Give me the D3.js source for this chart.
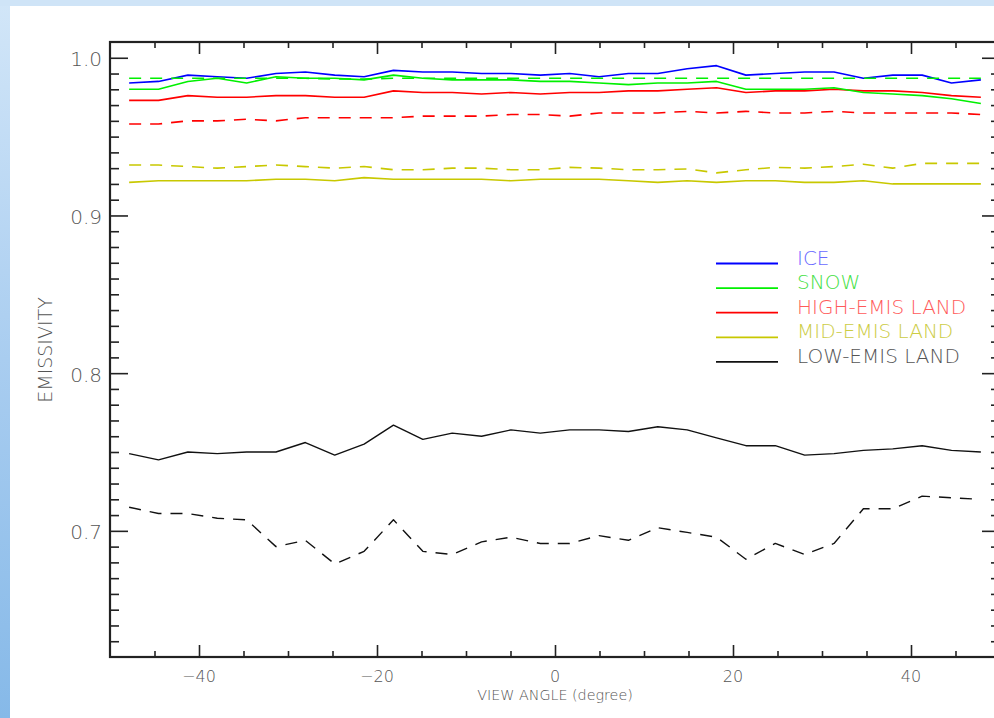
<!DOCTYPE html>
<html><head><meta charset="utf-8">
<script src="https://cdn.jsdelivr.net/npm/d3@7"></script>
<style>html,body{margin:0;padding:0;overflow:hidden;background:#fff}</style>
</head><body><svg id="c" width="994" height="718"></svg>
<script>
// ---------- data ----------
const angles = [-47.85,-44.55,-41.25,-37.95,-34.65,-31.35,-28.05,-24.75,-21.45,-18.15,-14.85,-11.55,-8.25,-4.95,-1.65,1.65,4.95,8.25,11.55,14.85,18.15,21.45,24.75,28.05,31.35,34.65,37.95,41.25,44.55,47.85];
const iceSolid   = [0.984,0.985,0.989,0.988,0.987,0.990,0.991,0.989,0.988,0.992,0.991,0.991,0.990,0.990,0.989,0.990,0.988,0.990,0.990,0.993,0.995,0.989,0.990,0.991,0.991,0.987,0.989,0.989,0.984,0.986];
const snowSolid  = [0.980,0.980,0.985,0.987,0.984,0.988,0.987,0.987,0.986,0.989,0.987,0.986,0.986,0.986,0.985,0.985,0.984,0.983,0.984,0.984,0.985,0.980,0.980,0.980,0.981,0.978,0.977,0.976,0.974,0.971];
const snowDashed = [0.987,0.987,0.987,0.987,0.987,0.987,0.987,0.9865,0.9865,0.987,0.987,0.987,0.987,0.987,0.987,0.987,0.987,0.987,0.987,0.987,0.987,0.987,0.987,0.987,0.987,0.987,0.987,0.987,0.987,0.987];
const highSolid  = [0.973,0.973,0.976,0.975,0.975,0.976,0.976,0.975,0.975,0.979,0.978,0.978,0.977,0.978,0.977,0.978,0.978,0.979,0.979,0.980,0.981,0.978,0.979,0.979,0.980,0.979,0.979,0.978,0.976,0.975];
const highDashed = [0.958,0.958,0.960,0.960,0.961,0.960,0.962,0.962,0.962,0.962,0.963,0.963,0.963,0.964,0.964,0.963,0.965,0.965,0.965,0.966,0.965,0.966,0.965,0.965,0.966,0.965,0.965,0.965,0.965,0.964];
const midSolid   = [0.921,0.922,0.922,0.922,0.922,0.923,0.923,0.922,0.924,0.923,0.923,0.923,0.923,0.922,0.923,0.923,0.923,0.922,0.921,0.922,0.921,0.922,0.922,0.921,0.921,0.922,0.920,0.920,0.920,0.920];
const midDashed  = [0.932,0.932,0.931,0.930,0.931,0.932,0.931,0.930,0.931,0.929,0.929,0.930,0.930,0.929,0.929,0.9305,0.930,0.929,0.929,0.9295,0.927,0.929,0.9305,0.930,0.931,0.9325,0.930,0.933,0.933,0.933];
const lowSolid   = [0.749,0.745,0.750,0.749,0.750,0.750,0.756,0.748,0.755,0.767,0.758,0.762,0.760,0.764,0.762,0.764,0.764,0.763,0.766,0.764,0.759,0.754,0.754,0.748,0.749,0.751,0.752,0.754,0.751,0.750];
const lowDashed  = [0.715,0.711,0.711,0.708,0.707,0.690,0.694,0.679,0.687,0.707,0.687,0.685,0.693,0.696,0.692,0.692,0.697,0.694,0.702,0.699,0.696,0.682,0.692,0.685,0.692,0.714,0.714,0.722,0.721,0.720];

const legendNames  = ["ICE","SNOW","HIGH-EMIS LAND","MID-EMIS LAND","LOW-EMIS LAND"];
const lineColors   = ["#0000ff","#00f000","#ff0000","#c8c800","#111111"];
const legendText   = ["#6a6aff","#44e044","#ff5a5a","#cccc44","#555555"];

const xMajor = [-40,-20,0,20,40];
const xMinor = [-45,-35,-30,-25,-15,-10,-5,5,10,15,25,30,35,45];
const yMajor = [0.7,0.8,0.9,1.0];
const yLabels = ["0.7","0.8","0.9","1.0"];
const xLabels = ["\u221240","\u221220","0","20","40"];

// ---------- drawing ----------
const svg = d3.select("#c");
const defs = svg.append("defs");
const g1 = defs.append("linearGradient").attr("id","sky").attr("x1",0).attr("y1",0).attr("x2",0).attr("y2",1);
g1.append("stop").attr("offset","0").attr("stop-color","#d2e6f8");
g1.append("stop").attr("offset","0.5").attr("stop-color","#a9cdf0");
g1.append("stop").attr("offset","1").attr("stop-color","#86b9e8");
svg.append("rect").attr("width",994).attr("height",718).attr("fill","url(#sky)");
svg.append("rect").attr("x",0).attr("y",0).attr("width",994).attr("height",6).attr("fill","#cfe4f7");
svg.append("rect").attr("x",10).attr("y",6).attr("width",984).attr("height",712).attr("fill","#ffffff");

const L = 110, R = 1000, T = 42, B = 657;
const x = d3.scaleLinear().domain([-50,50]).range([L,R]);
const y = d3.scaleLinear().domain([0.62,1.01]).range([B,T]);

const font = "'DejaVu Sans', sans-serif";
const axisColor = "#222";

// minor y ticks (every 0.01)
const yMinor = d3.range(63,101).map(d=>d/100).filter(v=>!yMajor.some(m=>Math.abs(m-v)<1e-6));

function styleAxis(sel){
  sel.select(".domain").remove();
  sel.selectAll(".tick line").attr("stroke",axisColor).attr("stroke-width",1.6);
  sel.selectAll(".tick text").remove();
}
// bottom & top
svg.append("g").attr("transform",`translate(0,${B})`).call(d3.axisBottom(x).tickValues(xMajor).tickSize(-12)).call(styleAxis);
svg.append("g").attr("transform",`translate(0,${B})`).call(d3.axisBottom(x).tickValues(xMinor).tickSize(-6)).call(styleAxis);
svg.append("g").attr("transform",`translate(0,${T})`).call(d3.axisTop(x).tickValues(xMajor).tickSize(-12)).call(styleAxis);
svg.append("g").attr("transform",`translate(0,${T})`).call(d3.axisTop(x).tickValues(xMinor).tickSize(-6)).call(styleAxis);
// left & right
svg.append("g").attr("transform",`translate(${L},0)`).call(d3.axisLeft(y).tickValues(yMajor).tickSize(-18)).call(styleAxis);
svg.append("g").attr("transform",`translate(${L},0)`).call(d3.axisLeft(y).tickValues(yMinor).tickSize(-9)).call(styleAxis);
svg.append("g").attr("transform",`translate(${R},0)`).call(d3.axisRight(y).tickValues(yMajor).tickSize(-18)).call(styleAxis);
svg.append("g").attr("transform",`translate(${R},0)`).call(d3.axisRight(y).tickValues(yMinor).tickSize(-9)).call(styleAxis);

svg.append("rect").attr("x",L).attr("y",T).attr("width",R-L).attr("height",B-T)
  .attr("fill","none").attr("stroke",axisColor).attr("stroke-width",2.2);

// tick labels
svg.append("g").selectAll("text").data(yMajor).join("text")
  .attr("x",L-8).attr("y",d=>y(d)+8.6).attr("text-anchor","end")
  .attr("font-family",font).attr("font-weight",200).attr("font-size",20).attr("fill","#555")
  .text((d,i)=>yLabels[i]);
svg.append("g").selectAll("text").data(xMajor).join("text")
  .attr("x",d=>x(d)).attr("y",681.8).attr("text-anchor","middle")
  .attr("font-family",font).attr("font-weight",200).attr("font-size",16).attr("fill","#555")
  .text((d,i)=>xLabels[i]);

// axis titles
svg.append("text").attr("x",555).attr("y",700).attr("text-anchor","middle")
  .attr("font-family",font).attr("font-weight",200).attr("font-size",14.3).attr("fill","#555")
  .text("VIEW ANGLE (degree)");
svg.append("text").attr("transform","translate(51.7,350) rotate(-90)").attr("text-anchor","middle")
  .attr("font-family",font).attr("font-weight",200).attr("font-size",19).attr("fill","#555")
  .text("EMISSIVITY");

// lines
const line = d3.line().x((d,i)=>x(angles[i])).y(d=>y(d));
const series = [
  {v: midDashed,  c:3, dash:"12,9"},
  {v: midSolid,   c:3, dash:null},
  {v: highDashed, c:2, dash:"12,9"},
  {v: highSolid,  c:2, dash:null},
  {v: lowDashed,  c:4, dash:"12,9"},
  {v: lowSolid,   c:4, dash:null},
  {v: iceSolid,   c:0, dash:null},
  {v: snowSolid,  c:1, dash:null},
  {v: snowDashed, c:1, dash:"12,9"}
];
svg.append("g").selectAll("path").data(series).join("path")
  .attr("d",d=>line(d.v)).attr("fill","none")
  .attr("stroke",d=>lineColors[d.c]).attr("stroke-width",d=>d.c===4?1.4:1.6)
  .attr("stroke-dasharray",d=>d.dash).attr("stroke-linejoin","round");

// legend
const leg = svg.append("g");
const legY = [263.5,288.1,312.7,337.3,361.9];
leg.selectAll("line").data(legendNames).join("line")
  .attr("x1",716).attr("x2",778).attr("y1",(d,i)=>legY[i]).attr("y2",(d,i)=>legY[i])
  .attr("stroke",(d,i)=>lineColors[i]).attr("stroke-width",1.8);
leg.selectAll("text").data(legendNames).join("text")
  .attr("x",797).attr("y",(d,i)=>legY[i]+1)
  .attr("font-family",font).attr("font-weight",200).attr("font-size",20)
  .attr("fill",(d,i)=>legendText[i]).text(d=>d);
</script></body></html>
